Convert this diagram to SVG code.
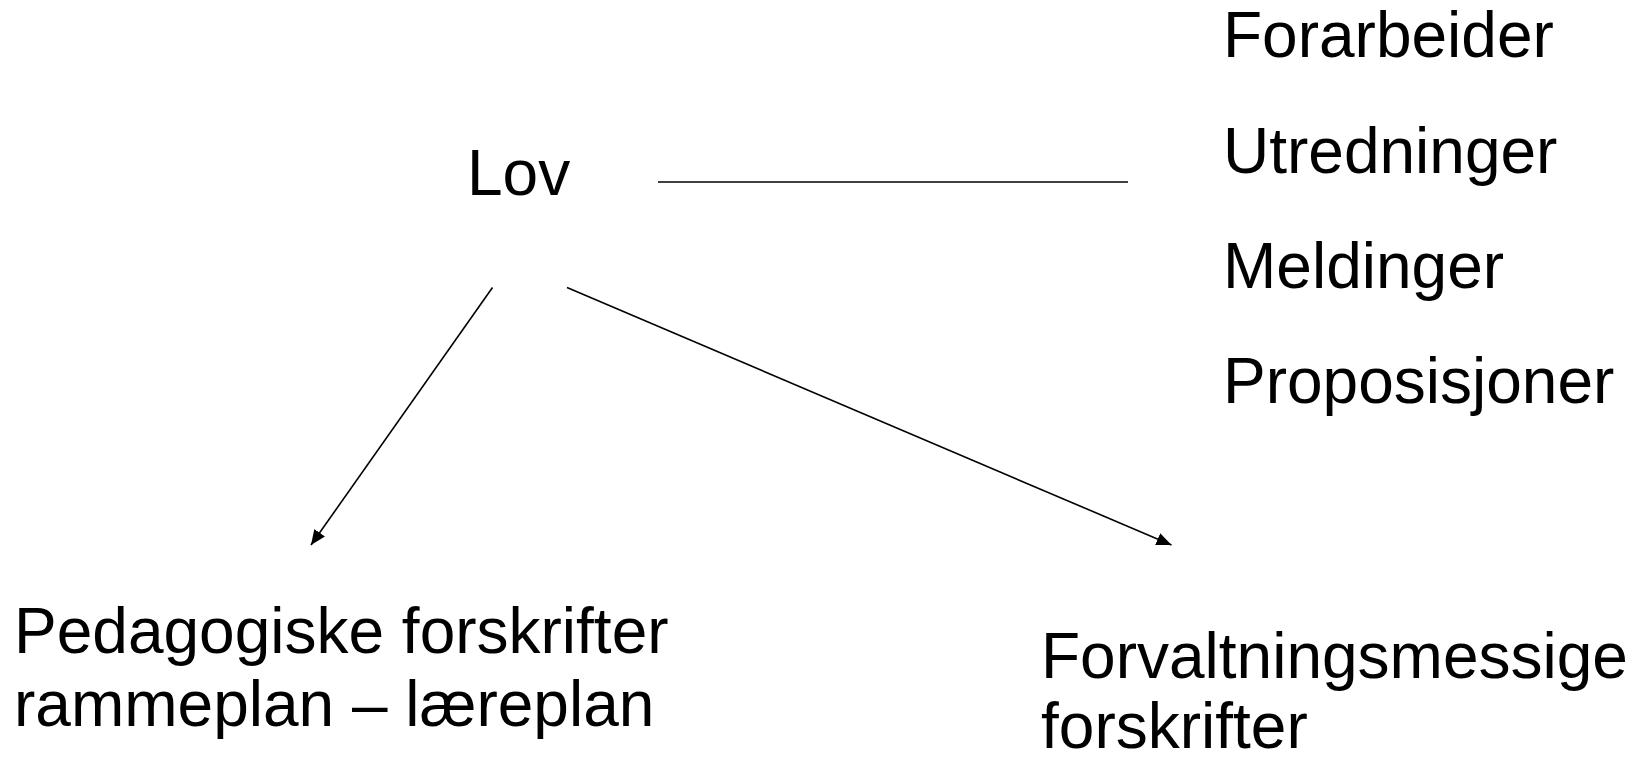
<svg xmlns="http://www.w3.org/2000/svg" width="1643" height="757" viewBox="0 0 1643 757">
  <style>
    .t { font-family: "Liberation Sans", Arial, sans-serif; font-size: 64px; fill: #000; }
    .c { stroke: #000; stroke-width: 1.6; fill: none; }
  </style>
  <defs>
    <marker id="arr" markerUnits="userSpaceOnUse" markerWidth="16" markerHeight="13" refX="15" refY="6.5" orient="auto">
      <path d="M0,0 L15,6.5 L0,13 z" fill="#000"/>
    </marker>
  </defs>
  <rect width="1643" height="757" fill="#fff"/>
  <g id="connectors">
    <line class="c" x1="658" y1="182" x2="1128" y2="182"/>
    <line class="c" x1="492.5" y1="287.5" x2="311" y2="545" marker-end="url(#arr)"/>
    <line class="c" x1="567" y1="287.5" x2="1171.5" y2="545" marker-end="url(#arr)"/>
  </g>
  <g id="lov"><text class="t" x="467" y="195">Lov</text></g>
  <g id="forarbeider"><text class="t" x="1223" y="57">Forarbeider</text></g>
  <g id="utredninger"><text class="t" x="1223" y="173">Utredninger</text></g>
  <g id="meldinger"><text class="t" x="1223" y="288">Meldinger</text></g>
  <g id="proposisjoner"><text class="t" x="1223" y="403">Proposisjoner</text></g>
  <g id="pedagogiske">
    <text class="t" x="14" y="653">Pedagogiske forskrifter</text>
    <text class="t" x="14" y="726">rammeplan – læreplan</text>
  </g>
  <g id="forvaltning">
    <text class="t" x="1041" y="678">Forvaltningsmessige</text>
    <text class="t" x="1041" y="748">forskrifter</text>
  </g>
</svg>
